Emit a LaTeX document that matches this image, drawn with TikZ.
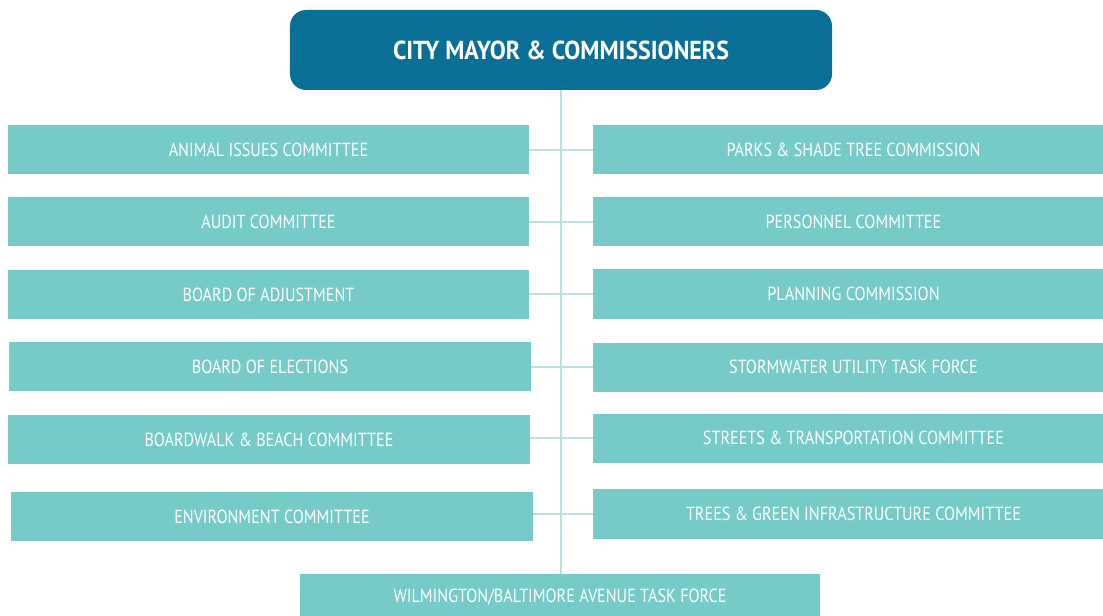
\documentclass[tikz,border=0pt]{standalone}
\usepackage{fontspec}
\setmainfont{PT Sans}[FakeStretch=0.85]
\newfontfamily\titlefont{PT Sans}[FakeStretch=0.92]
\usetikzlibrary{backgrounds}
\definecolor{topblue}{HTML}{0A6F96}
\definecolor{boxteal}{HTML}{76CBC8}
\definecolor{linteal}{HTML}{B5E3E1}
\tikzset{
  orgbox/.style={fill=boxteal, draw=none, text=white, minimum width=521bp, minimum height=49bp, inner sep=0pt, font=\fontsize{19bp}{21bp}\selectfont},
  headbox/.style={fill=topblue, draw=none, text=white, rounded corners=16bp, minimum width=542bp, minimum height=80bp, inner sep=0pt, font=\titlefont\fontsize{26bp}{28bp}\selectfont\bfseries},
  link/.style={draw=linteal, line width=2.2bp}
}
\begin{document}
\begin{tikzpicture}[x=1bp,y=-1bp]
\useasboundingbox (0,0) rectangle (1103,616);
\clip (0,0) rectangle (1103,616);
\node[headbox] (top) at (561,50) {CITY MAYOR \& COMMISSIONERS};
\node[orgbox] (l1) at (268.5,150) {ANIMAL ISSUES COMMITTEE};
\node[orgbox] (l2) at (268.5,222) {AUDIT COMMITTEE};
\node[orgbox] (l3) at (268.5,294.5) {BOARD OF ADJUSTMENT};
\node[orgbox] (l4) at (270,366.5) {BOARD OF ELECTIONS};
\node[orgbox] (l5) at (269,439.5) {BOARDWALK \& BEACH COMMITTEE};
\node[orgbox] (l6) at (272,516.5) {ENVIRONMENT COMMITTEE};
\node[orgbox] (r1) at (853.5,150) {PARKS \& SHADE TREE COMMISSION};
\node[orgbox] (r2) at (853.5,222) {PERSONNEL COMMITTEE};
\node[orgbox] (r3) at (853.5,294) {PLANNING COMMISSION};
\node[orgbox] (r4) at (853.5,367) {STORMWATER UTILITY TASK FORCE};
\node[orgbox] (r5) at (853.5,438) {STREETS \& TRANSPORTATION COMMITTEE};
\node[orgbox, minimum height=50bp] (r6) at (853.5,514) {TREES \& GREEN INFRASTRUCTURE COMMITTEE};
\node[orgbox, minimum width=520bp, minimum height=46bp] (bot) at (560,597) {WILMINGTON/BALTIMORE AVENUE TASK FORCE};
\begin{pgfonlayer}{background}
\draw[link] (top.south -| 561,0) -- (bot.north -| 561,0);
\draw[link] (r1.west -| l1.east) -- (r1.west);
\draw[link] (r2.west -| l2.east) -- (r2.west);
\draw[link] (r3.west -| l3.east) -- (r3.west);
\draw[link] (r4.west -| l4.east) -- (r4.west);
\draw[link] (r5.west -| l5.east) -- (r5.west);
\draw[link] (r6.west -| l6.east) -- (r6.west);
\end{pgfonlayer}
\end{tikzpicture}
\end{document}
